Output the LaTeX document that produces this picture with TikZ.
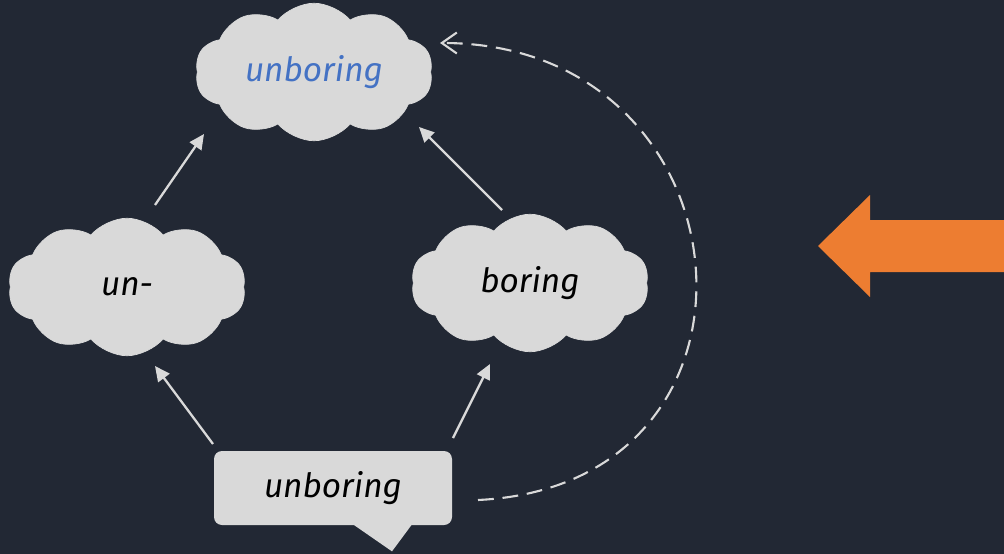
\documentclass[tikz,border=0pt]{standalone}
\usepackage{fontspec}
\setmainfont{Fira Sans}
\usetikzlibrary{shapes.symbols,arrows.meta}
\definecolor{bgdark}{HTML}{222834}
\definecolor{puff}{HTML}{D9D9D9}
\definecolor{wordblue}{HTML}{4472C4}
\definecolor{bigorange}{HTML}{ED7D31}
\begin{document}
\begin{tikzpicture}[>={Triangle[length=.3cm,width=.28cm]},
  cloudbox/.style={cloud, cloud puffs=10, cloud puff arc=100, cloud ignores aspect,
    fill=puff, draw=puff, minimum width=4.75cm, minimum height=2.75cm,
    font=\fontsize{19}{22}\selectfont\itshape},
  link/.style={->, draw=puff, line width=1.3pt},
  backlink/.style={-{Straight Barb[length=.3cm,width=.42cm]}, draw=puff, line width=1.2pt,
    dash pattern=on 9pt off 5pt}]
\fill[bgdark](0,0) rectangle (20.08,-11.08);
\useasboundingbox (0,0) rectangle (20.08,-11.08);

\node[cloudbox, text=wordblue] (top) at (6.28,-1.44) {unboring};
\node[cloudbox] (un) at (2.54,-5.74) {un-};
\node[cloudbox] (boring) at (10.6,-5.66) {boring};

% speech bubble
\node[fill=puff, rounded corners=.16cm, minimum width=4.76cm, minimum height=1.48cm,
  font=\fontsize{19}{22}\selectfont\itshape] (word) at (6.66,-9.76) {unboring};
\fill[puff] ([xshift=.4cm,yshift=.02cm]word.south) -- ([xshift=1.58cm,yshift=.02cm]word.south)
  -- ([xshift=1.18cm,yshift=-.52cm]word.south) -- cycle;

\draw[link] ([shift={(0.56,1.64)}]un.center) -- ([shift={(-2.2,-1.24)}]top.center);
\draw[link] ([shift={(-0.56,1.46)}]boring.center) -- ([shift={(2.1,-1.1)}]top.center);
\draw[link] ([shift={(-2.4,0.88)}]word.center) -- ([shift={(0.56,-1.58)}]un.center);
\draw[link] ([shift={(2.4,1.0)}]word.center) -- ([shift={(-0.8,-1.62)}]boring.center);
\draw[backlink] ([shift={(2.9,-0.24)}]word.center) .. controls +(6.3,0.3) and +(6.3,0) ..
  ([shift={(2.52,0.58)}]top.center);

% big arrow
\fill[bigorange](16.36,-4.92)--(17.4,-3.9)--(17.4,-4.4)--(20.08,-4.4)--(20.08,-5.44)
  --(17.4,-5.44)--(17.4,-5.94)--cycle;
\end{tikzpicture}
\end{document}
